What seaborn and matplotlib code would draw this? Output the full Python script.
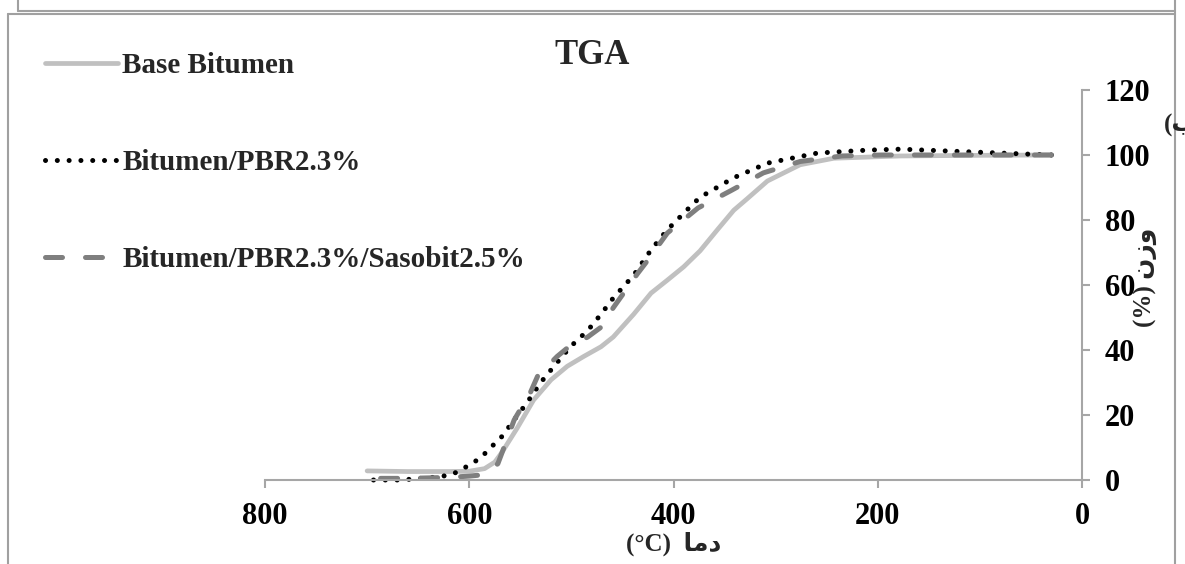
import matplotlib
matplotlib.use("Agg")
import matplotlib.pyplot as plt
from matplotlib.lines import Line2D
import seaborn as sns
import pandas as pd

# ---- data ----
base_T = [700, 660, 620, 600, 585, 575, 568, 553, 537, 520, 504, 488, 471, 459, 439,
          422, 406, 390, 374, 357, 341, 328, 308, 276, 243, 178, 100, 30]
base_W = [2.8, 2.6, 2.6, 2.7, 3.5, 5.5, 8.5, 16, 24.6, 30.8, 35, 38, 41, 44, 51,
          57.5, 61.5, 65.6, 70.5, 77, 83, 86.5, 92, 97, 99, 99.7, 99.9, 100]

pbr_T = [700, 667, 628, 615, 605, 596, 587, 579, 569, 556, 543, 530, 517, 501, 484,
         471, 459, 439, 422, 406, 382, 374, 341, 308, 259, 210, 178, 129, 80, 30]
pbr_W = [0, 0, 1, 2, 3.7, 5.3, 7.4, 10, 13, 18.5, 24, 30, 35, 41, 46,
         51, 56, 63, 70.8, 77, 84.6, 87, 93, 97.5, 100.6, 101.5, 101.8, 101.2, 100.6, 100]

sas_T = [700, 660, 620, 600, 590, 580, 572, 566, 556, 540, 533, 514, 504, 484, 471,
         459, 435, 425, 406, 376, 344, 312, 276, 235, 196, 100, 30]
sas_W = [0.5, 0.5, 0.8, 1.2, 1.5, 3, 5, 10, 18.5, 27, 32, 38, 40.6, 44, 47,
         53, 63.6, 67.7, 76, 83.7, 89, 94.5, 98, 99.7, 100, 100, 100]

series_names = ["Base Bitumen", "Bitumen/PBR2.3%", "Bitumen/PBR2.3%/Sasobit2.5%"]
x_ticks = [800, 600, 400, 200, 0]
y_ticks = [0, 20, 40, 60, 80, 100, 120]
title_text = "TGA"
# Arabic labels written in visual order with presentation forms
xlabel_text = "(°C)  \uFE8E\uFEE3\uFEA9"      # دما (°C)
ylabel_text = "(%) \uFEE5\uFEAF\uFEED"        # وزن (%)
corner_text = "(\uFE8F)"                       # (ب)

sns.set_theme(style="white")
plt.rcParams["font.family"] = ["Liberation Serif", "DejaVu Sans"]
plt.rcParams["font.weight"] = "bold"

W, H = 1185, 564
fig = plt.figure(figsize=(W / 100, H / 100), dpi=100)
ax = fig.add_axes([265 / W, 1 - 480 / H, (1082 - 265) / W, (480 - 90) / H])
ax.set_facecolor("white")

df_b = pd.DataFrame({"T": base_T, "W": base_W})
df_p = pd.DataFrame({"T": pbr_T, "W": pbr_W})
df_s = pd.DataFrame({"T": sas_T, "W": sas_W})

sns.lineplot(data=df_b, x="T", y="W", ax=ax, color="#C0C0C0", linewidth=3.4,
             solid_capstyle="round", solid_joinstyle="round", clip_on=False,
             label=series_names[0])
sns.lineplot(data=df_p, x="T", y="W", ax=ax, color="black", linewidth=3.6,
             linestyle=(0, (0.01, 2.35)), dash_capstyle="round", clip_on=False,
             label=series_names[1])
sns.lineplot(data=df_s, x="T", y="W", ax=ax, color="#7F7F7F", linewidth=3.6,
             linestyle=(0, (3.4, 4.6)), dash_capstyle="round", clip_on=False,
             label=series_names[2])

ax.set_xlim(800, 0)
ax.set_ylim(0, 120)
ax.set_xticks(x_ticks)
ax.set_yticks(y_ticks)
ax.set_xticklabels([str(v) for v in x_ticks])
ax.set_yticklabels([str(v) for v in y_ticks])
ax.yaxis.tick_right()
ax.set_xlabel("")
ax.set_ylabel("")

spine_col = "#A6A6A6"
for s in ["top", "left"]:
    ax.spines[s].set_visible(False)
for s in ["bottom", "right"]:
    ax.spines[s].set_visible(True)
    ax.spines[s].set_color(spine_col)
    ax.spines[s].set_linewidth(1.5)

ax.tick_params(axis="x", direction="out", length=5.8, width=1.5, color=spine_col,
               pad=10, labelsize=22, bottom=True)
ax.tick_params(axis="y", direction="out", length=5.8, width=1.5, color=spine_col,
               pad=10.5, labelsize=22, right=True, left=False)
for lab in ax.get_xticklabels() + ax.get_yticklabels():
    lab.set_fontweight("bold")
    lab.set_color("black")

# legend
handles = ax.get_lines()[:3]
leg = ax.legend(handles, series_names, loc="upper left",
                bbox_to_anchor=(45 / W, 1 - 52 / H), bbox_transform=fig.transFigure,
                frameon=False, borderpad=0, borderaxespad=0,
                handlelength=2.5, handletextpad=0.15, labelspacing=2.4,
                prop={"size": 21, "weight": "bold",
                      "family": ["Liberation Serif", "DejaVu Sans"]})

# texts
fig.text(592 / W, 1 - 56 / H, title_text, ha="center", va="center",
         fontsize=25, fontweight="bold")
fig.text(674 / W, 1 - 544 / H, xlabel_text, ha="center", va="center",
         fontsize=18, fontweight="bold")
fig.text(1145 / W, 1 - 277 / H, ylabel_text, ha="center", va="center",
         fontsize=18, fontweight="bold", rotation=90)
fig.text(1164 / W, 1 - 125 / H, corner_text, ha="left", va="center",
         fontsize=18, fontweight="bold")

# outer frames
fc = "#A0A0A0"
def fline(xs, ys):
    fig.add_artist(Line2D([x / W for x in xs], [1 - y / H for y in ys],
                          transform=fig.transFigure, color=fc, linewidth=1.5))
fline([18, 18], [0, 11])
fline([18, 1175], [11, 11])
fline([8, 1175], [14, 14])
fline([8, 8], [14, 564])
fline([1175, 1175], [0, 564])

fig.savefig("out.png", dpi=100, facecolor="white")
